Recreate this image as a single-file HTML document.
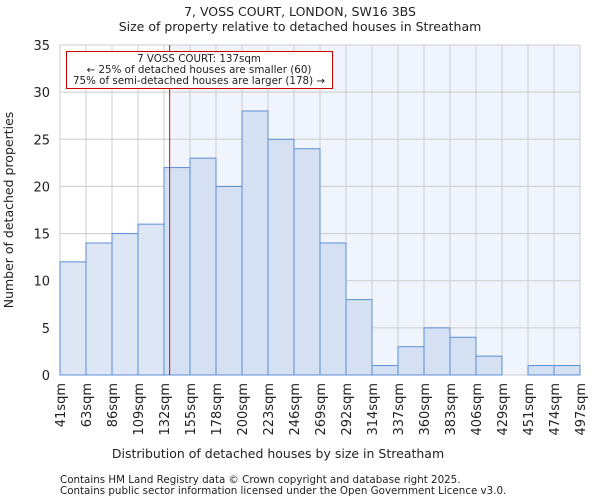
<!DOCTYPE html>
<html><head><meta charset="utf-8"><style>
body{margin:0;background:#fff;font-family:"DejaVu Sans","Liberation Sans",sans-serif;}
svg text{font-family:"DejaVu Sans","Liberation Sans",sans-serif;fill:#222;}
</style></head><body>
<svg id="chart" width="600" height="500" xmlns="http://www.w3.org/2000/svg">
<text x="300" y="16" font-size="12.5" text-anchor="middle">7, VOSS COURT, LONDON, SW16 3BS</text>
<text x="300" y="31" font-size="12.5" text-anchor="middle">Size of property relative to detached houses in Streatham</text>
<g id="plot"></g>
<text x="278" y="458" font-size="12.5" text-anchor="middle">Distribution of detached houses by size in Streatham</text>
<text transform="translate(13,210) rotate(-90)" font-size="12.5" text-anchor="middle">Number of detached properties</text>
<text x="60" y="483" font-size="10.3" fill="#444">Contains HM Land Registry data © Crown copyright and database right 2025.</text>
<text x="60" y="494" font-size="10.3" fill="#444">Contains public sector information licensed under the Open Government Licence v3.0.</text>
</svg>
<script>
const binLabels=["41sqm","63sqm","86sqm","109sqm","132sqm","155sqm","178sqm","200sqm","223sqm","246sqm","269sqm","292sqm","314sqm","337sqm","360sqm","383sqm","406sqm","429sqm","451sqm","474sqm","497sqm"];
const binEdges=[41,63,86,109,132,155,178,200,223,246,269,292,314,337,360,383,406,429,451,474,497];
const counts=[12,14,15,16,22,23,20,28,25,24,14,8,1,3,5,4,2,0,1,1];
const yTicks=[0,5,10,15,20,25,30,35];
const markerSize=137;
const NS="http://www.w3.org/2000/svg";
const X0=60,X1=580,Y0=375,Y1=45,YMAX=35;
const nb=counts.length;
const xi=i=>X0+(X1-X0)*i/nb;
const xv=v=>{let i=0;while(i<nb-1&&v>binEdges[i+1])i++;return xi(i)+(v-binEdges[i])/(binEdges[i+1]-binEdges[i])*(X1-X0)/nb;};
const y=v=>Y0-(Y0-Y1)*v/YMAX;
const g=document.getElementById('plot');
function mk(t,a){const e=document.createElementNS(NS,t);for(const k in a)e.setAttribute(k,a[k]);g.appendChild(e);return e;}
const mx=xv(markerSize);
let e=mk('rect',{x:mx,y:Y1,width:X1-mx,height:Y0-Y1,fill:'#f0f4fc'});


for(let i=0;i<=nb;i++){e=mk('line',{x1:xi(i),x2:xi(i),y1:Y1,y2:Y0,stroke:'#cccccc'});

}
yTicks.forEach(t=>{e=mk('line',{x1:X0,x2:X1,y1:y(t),y2:y(t),stroke:'#cccccc'});


e=mk('text',{x:X0-10,y:y(t)+5,'font-size':13,'text-anchor':'end'});e.textContent=t;

});
counts.forEach((c,i)=>{if(c<=0)return;const left=xi(i+1)<=mx+1;
e=mk('rect',{x:xi(i),y:y(c),width:xi(i+1)-xi(i),height:Y0-y(c),fill:left?'#dde6f4':'#d5e0f3',stroke:'#5b8fd6','stroke-width':1});

});
binLabels.forEach((l,i)=>{const tx=xi(i);e=mk('text',{transform:`translate(${tx+5},383) rotate(-90)`,'font-size':13,'text-anchor':'end'});e.textContent=l;

});
e=mk('line',{x1:mx,x2:mx,y1:Y1,y2:Y0,stroke:'#ee0000','stroke-width':1});


e=mk('rect',{x:66.5,y:51.5,width:266,height:37,fill:'#fff',stroke:'#cc0000'});


const ann=["7 VOSS COURT: "+markerSize+"sqm","← 25% of detached houses are smaller (60)","75% of semi-detached houses are larger (178) →"];
ann.forEach((s,k)=>{e=mk('text',{x:199,y:62+k*11,'font-size':10.3,'text-anchor':'middle'});e.textContent=s;

});
</script>
</body></html>
